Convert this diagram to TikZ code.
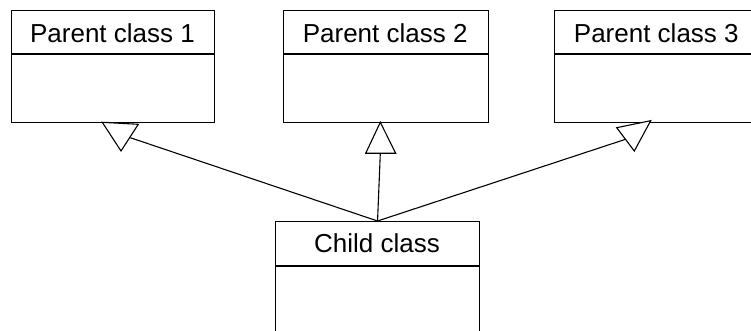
\documentclass[tikz,border=0pt]{standalone}
\usepackage{fontspec}
\setmainfont{Liberation Sans}
\begin{document}
\begin{tikzpicture}[x=1pt,y=-1pt,
  classbox/.style={draw=black,line width=1.1pt,fill=white,minimum width=#1,minimum height=112pt,anchor=north west,inner sep=0pt},
  classname/.style={font=\fontsize{26}{30}\selectfont,anchor=base,inner sep=0pt},
  divider/.style={draw=black,line width=1.1pt},
  conn/.style={draw=black,line width=1.1pt},
  headtri/.style={draw=black,line width=1.1pt,fill=white,line join=miter}]
\useasboundingbox (0,0) rectangle (751,331);
\clip (0,0) rectangle (751,331);
% parent classes
\node[classbox=203pt] (p1) at (11,10) {};
\node[classbox=205pt] (p2) at (282.7,10) {};
\node[classbox=204pt] (p3) at (554.3,10) {};
\node[classbox=204pt] (c) at (275,221) {};
\draw[divider] (11,54) -- (214,54);
\draw[divider] (282.7,54) -- (487.7,54);
\draw[divider] (554.3,54) -- (758.3,54);
\draw[divider] (275,266) -- (479,266);
\node[classname] (p1t) at (112.5,42.5) {Parent class 1};
\node[classname] (p2t) at (385.2,42.5) {Parent class 2};
\node[classname] (p3t) at (656.3,42.5) {Parent class 3};
\node[classname] (ct) at (377,252.5) {Child class};
% arrowhead anchor points
\coordinate (a1) at (130.3,137.7);
\coordinate (a2) at (380.3,153.3);
\coordinate (a3) at (625.5,139.3);
\draw[conn] (c.north) -- (a1);
\draw[conn] (c.north) -- (a2);
\draw[conn] (c.north) -- (a3);
% hollow triangles
\path[headtri] (102.3,122.3) -- (138.3,124.3) -- (121,151) -- cycle;
\path[headtri] (380.3,122.3) -- (395.7,153.3) -- (365.7,153.3) -- cycle;
\path[headtri] (616.7,127.7) -- (650.7,120.7) -- (634.3,151) -- cycle;
\end{tikzpicture}
\end{document}
